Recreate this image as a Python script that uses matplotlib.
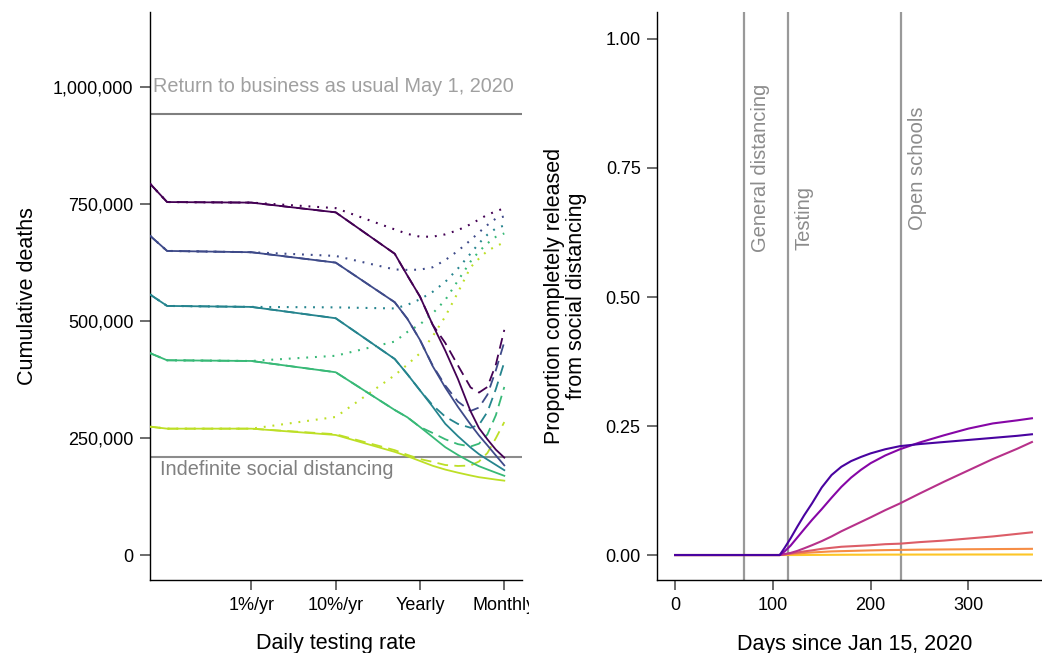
import numpy as np
import matplotlib
matplotlib.use("Agg")
import matplotlib.pyplot as plt
from matplotlib.ticker import FuncFormatter
from matplotlib.transforms import Bbox, TransformedBbox

plt.rcParams['font.family'] = ['Liberation Sans', 'DejaVu Sans']

# ---- left panel: cumulative deaths vs daily testing rate ----
# x is position on the testing-rate axis (ticks at -2, -1, 0, 1)
rate_x = [-3.2, -3.0, -2.0, -1.0, -0.3, -0.15, 0.0, 0.15, 0.3, 0.45, 0.6, 0.7, 0.8, 0.9, 1.0]
rate_ticks = [-2, -1, 0, 1]
rate_labels = ["1%/yr", "10%/yr", "Yearly", "Monthly"]

# thousands of deaths; one group per colour, three scenarios each
solid_1 = [792.7, 754, 752.8, 732, 643.6, 597, 552, 492, 436.5, 376, 307, 271, 247, 225, 208]
dotted_1 = [792.7, 754, 752.8, 741, 695.5, 686, 680, 680, 685, 694, 706.6, 716.7, 727, 734, 741]
dashed_1 = [792.7, 754, 752.8, 732, 643.6, 597, 552, 492, 453, 405, 358, 347, 359, 407, 481]

solid_2 = [681.6, 649.6, 646.8, 624.6, 540, 504.7, 459.4, 403.6, 357.7, 316.5, 278.8, 255.3, 234.2, 212.6, 191.5]
dotted_2 = [681.6, 649.6, 646.8, 638.9, 610, 609, 609.6, 614.7, 630, 649.8, 672.6, 689.3, 705, 718.8, 723.3]
dashed_2 = [681.6, 649.6, 646.8, 624.6, 540, 504.7, 459.4, 405, 362, 327.6, 307.7, 315, 342.5, 394.7, 455]

solid_3 = [556.2, 532.1, 530, 505.8, 418.8, 386.2, 351.7, 316.9, 280.3, 253.8, 229.7, 215.4, 203.8, 192.5, 181.2]
dotted_3 = [556.2, 532.1, 530, 529, 526.7, 534.4, 546.3, 562.2, 583.5, 612, 644, 666, 684.4, 697.7, 704]
dashed_3 = [556.2, 532.1, 530, 505.8, 418.8, 386.2, 351.7, 320, 295.5, 280, 271.8, 278, 305.8, 354.5, 412]

solid_4 = [431, 416, 414.5, 390.4, 309.8, 294.2, 273.5, 252, 230.3, 213.7, 198.7, 189.7, 182.7, 175.9, 169.2]
dotted_4 = [431, 416, 414.5, 425.6, 456, 476.5, 492.7, 516, 544.9, 586.1, 627, 648.5, 665.8, 679.7, 687]
dashed_4 = [431, 416, 414.5, 390.4, 309.8, 294.2, 273.5, 260.7, 247.2, 236.8, 231.8, 237.8, 257.7, 298.7, 359]

solid_5 = [274.1, 269.9, 269.9, 256.4, 220.3, 211.1, 200.9, 190.6, 182.5, 175.9, 169.9, 166.2, 163.7, 161.1, 158.8]
dotted_5 = [274.1, 269.9, 269.9, 294.9, 384, 406.8, 431, 467, 509.6, 561, 614.7, 633.3, 649.8, 659.6, 667.7]
dashed_5 = [274.1, 269.9, 269.9, 258, 224, 214, 205, 199, 192.3, 190.2, 191.2, 199.8, 218, 249.6, 284]

business_as_usual = 942300
indefinite_distancing = 209400

# ---- right panel: proportion released over time ----
days = [0, 107, 112, 118, 125, 132, 140, 150, 160, 170, 180, 190, 200, 215, 230, 250, 275, 300, 325, 350, 365]
released_1 = [0, 0, 0.014, 0.032, 0.055, 0.077, 0.1, 0.131, 0.155, 0.171, 0.182, 0.19, 0.197, 0.205,
              0.211, 0.215, 0.219, 0.223, 0.227, 0.231, 0.234]
released_2 = [0, 0, 0.007, 0.018, 0.034, 0.05, 0.068, 0.089, 0.111, 0.132, 0.15, 0.165, 0.178, 0.193,
              0.205, 0.218, 0.232, 0.245, 0.255, 0.261, 0.265]
released_3 = [0, 0, 0.002, 0.004, 0.008, 0.013, 0.019, 0.027, 0.036, 0.046, 0.055, 0.064, 0.073, 0.087,
              0.1, 0.119, 0.142, 0.164, 0.186, 0.206, 0.219]
released_4 = [0, 0, 0.001, 0.003, 0.005, 0.007, 0.009, 0.012, 0.014, 0.016, 0.017, 0.018, 0.019, 0.021,
              0.022, 0.025, 0.028, 0.032, 0.036, 0.041, 0.044]
released_5 = [0, 0, 0.001, 0.002, 0.003, 0.004, 0.005, 0.006, 0.007, 0.0075, 0.008, 0.0085, 0.009, 0.0095,
              0.0099, 0.0104, 0.0108, 0.0112, 0.0115, 0.0118, 0.012]
released_6 = [0, 0, 0, 0, 0, 0.0001, 0.0002, 0.0003, 0.0004, 0.0005, 0.0006, 0.0006, 0.0007, 0.0008,
              0.0008, 0.0009, 0.0009, 0.001, 0.001, 0.001, 0.001]

events = [("General distancing", 70, 0.587), ("Testing", 115.5, 0.591), ("Open schools", 231, 0.63)]

W, H = 1042, 653
fig = plt.figure(figsize=(W / 100, H / 100), dpi=100)
ax1 = fig.add_axes([150 / W, 1 - 580 / H, (522 - 150) / W, (580 - 12) / H])
ax2 = fig.add_axes([657.3 / W, 1 - 580 / H, (W - 657.3) / W, (580 - 12) / H])

for ax in (ax1, ax2):
    for s in ("top", "right"):
        ax.spines[s].set_visible(False)
    for s in ("left", "bottom"):
        ax.spines[s].set_linewidth(1.0)
        ax.spines[s].set_color("black")
    ax.tick_params(length=7, width=1.1, color="#444444", labelsize=13, pad=5, labelcolor="black")

# left panel
groups = [
    (solid_1, dashed_1, dotted_1),
    (solid_2, dashed_2, dotted_2),
    (solid_3, dashed_3, dotted_3),
    (solid_4, dashed_4, dotted_4),
    (solid_5, dashed_5, dotted_5),
]
left_colors = plt.cm.viridis(np.linspace(0, 0.9, 5))

ax1.axhline(business_as_usual, color="#7f7f7f", lw=1.5, zorder=1)
ax1.axhline(indefinite_distancing, color="#8c8c8c", lw=1.5, zorder=1)

for (sol, dsh, dot), c in zip(groups, left_colors):
    k = 1000
    ax1.plot(rate_x, np.array(dot) * k, color=c, lw=1.5, linestyle=(0, (0.9, 3.3)),
             dash_capstyle="butt", zorder=2)
    ax1.plot(rate_x, np.array(dsh) * k, color=c, lw=1.3, linestyle=(0, (6, 3.5)), zorder=3)
    ax1.plot(rate_x, np.array(sol) * k, color=c, lw=1.3, zorder=4)

ax1.text(-3.17, 1000000, "Return to business as usual May 1, 2020", color="#a0a0a0",
         fontsize=14.3, va="center", ha="left")
ax1.text(-3.09, 181600, "Indefinite social distancing", color="#808080",
         fontsize=14.3, va="center", ha="left")

ax1.set_xlim(-3.203, 1.21)
ax1.set_ylim(-53400, 1160000)
ax1.set_yticks([0, 250000, 500000, 750000, 1000000])
ax1.yaxis.set_major_formatter(FuncFormatter(lambda v, p: f"{int(v):,}"))
ax1.set_xticks(rate_ticks)
ax1.set_xticklabels(rate_labels)
ax1.set_xlabel("Daily testing rate", fontsize=15.5, labelpad=14)
ax1.set_ylabel("Cumulative deaths", fontsize=15.5, labelpad=11)

# clip the last tick label at the panel edge like the original
clip = TransformedBbox(Bbox([[0, 0], [529 / W, 1]]), fig.transFigure)
for lab in ax1.get_xticklabels():
    lab.set_clip_box(clip)
    lab.set_clip_on(True)

# right panel
released = [released_1, released_2, released_3, released_4, released_5, released_6]
right_colors = plt.cm.plasma(np.linspace(0.12, 0.88, 6))

for name, d, ytxt in events:
    ax2.axvline(d, color="#999999", lw=1.6, zorder=1)
    ax2.annotate(name, xy=(d, ytxt), xytext=(5, 0), textcoords="offset points",
                 rotation=90, ha="left", va="bottom", color="#8c8c8c", fontsize=14.5)

for vals, c in reversed(list(zip(released, right_colors))):
    ax2.plot(days, vals, color=c, lw=1.5, zorder=2)

ax2.set_xlim(-18.25, 375.3)
ax2.set_ylim(-0.0484, 1.0523)
ax2.set_xticks([0, 100, 200, 300])
ax2.set_yticks([0, 0.25, 0.5, 0.75, 1.0])
ax2.yaxis.set_major_formatter(FuncFormatter(lambda v, p: f"{v:.2f}"))
ax2.set_xlabel("Days since Jan 15, 2020", fontsize=15.5, labelpad=14)
ax2.xaxis.set_label_coords(0.514, -0.095)
ax2.set_ylabel("Proportion completely released\nfrom social distancing", fontsize=15.5,
               labelpad=13, linespacing=1.1)

fig.savefig("out.png", dpi=100)
